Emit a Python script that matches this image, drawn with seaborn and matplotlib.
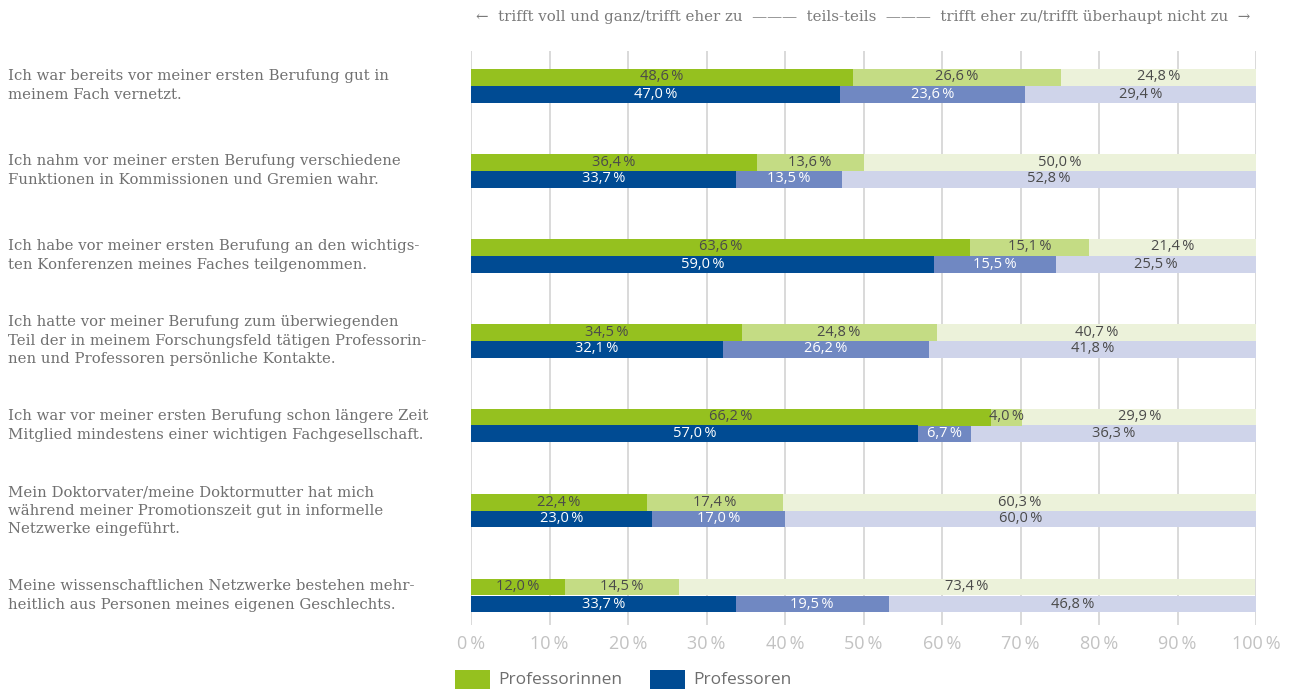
import matplotlib
matplotlib.use("Agg")
import matplotlib.pyplot as plt
import seaborn as sns
import pandas as pd
import numpy as np
from matplotlib.patches import Rectangle
import matplotlib.transforms as mtransforms

questions = [
    "Ich war bereits vor meiner ersten Berufung gut in\nmeinem Fach vernetzt.",
    "Ich nahm vor meiner ersten Berufung verschiedene\nFunktionen in Kommissionen und Gremien wahr.",
    "Ich habe vor meiner ersten Berufung an den wichtigs-\nten Konferenzen meines Faches teilgenommen.",
    "Ich hatte vor meiner Berufung zum überwiegenden\nTeil der in meinem Forschungsfeld tätigen Professorin-\nnen und Professoren persönliche Kontakte.",
    "Ich war vor meiner ersten Berufung schon längere Zeit\nMitglied mindestens einer wichtigen Fachgesellschaft.",
    "Mein Doktorvater/meine Doktormutter hat mich\nwährend meiner Promotionszeit gut in informelle\nNetzwerke eingeführt.",
    "Meine wissenschaftlichen Netzwerke bestehen mehr-\nheitlich aus Personen meines eigenen Geschlechts.",
]
groups = ["Professorinnen", "Professoren"]

f_agree = [48.6, 36.4, 63.6, 34.5, 66.2, 22.4, 12.0]
f_partly = [26.6, 13.6, 15.1, 24.8, 4.0, 17.4, 14.5]
f_disagree = [24.8, 50.0, 21.4, 40.7, 29.9, 60.3, 73.4]
m_agree = [47.0, 33.7, 59.0, 32.1, 57.0, 23.0, 33.7]
m_partly = [23.6, 13.5, 15.5, 26.2, 6.7, 17.0, 19.5]
m_disagree = [29.4, 52.8, 25.5, 41.8, 36.3, 60.0, 46.8]

xticks = [0, 10, 20, 30, 40, 50, 60, 70, 80, 90, 100]

green = ["#95c11f", "#c4dc84", "#ecf2da"]
blue = ["#004b93", "#7088c2", "#cfd4ea"]
label_colors_f = ["#4a4a4a", "#4a4a4a", "#4a4a4a"]
label_colors_m = ["#ffffff", "#ffffff", "#4a4a4a"]

sns.set_theme(style="white")
plt.rcParams["font.family"] = ["DejaVu Sans"]

W, H = 1297, 691
fig = plt.figure(figsize=(W / 100, H / 100), dpi=100)
ax_left, ax_right = 471 / W, 1256 / W
ax_top, ax_bot = 51, 625
ax = fig.add_axes([ax_left, 1 - ax_bot / H, ax_right - ax_left, (ax_bot - ax_top) / H])

unit = 85.0
y_top = -(85.5 - ax_top) / unit
y_bot = y_top + (ax_bot - ax_top) / unit

rows = []
for i, q in enumerate(questions):
    rows.append(dict(q=i, g=groups[0], a=f_agree[i], p=f_partly[i], d=f_disagree[i]))
    rows.append(dict(q=i, g=groups[1], a=m_agree[i], p=m_partly[i], d=m_disagree[i]))
df = pd.DataFrame(rows)
df["c1"] = df["a"]
df["c2"] = df["a"] + df["p"]
df["c3"] = df["a"] + df["p"] + df["d"]
df["qs"] = df["q"].astype(str)
order = [str(i) for i in range(len(questions))]

for layer, col in [(2, "c3"), (1, "c2"), (0, "c1")]:
    sns.barplot(data=df, y="qs", x=col, hue="g", order=order, hue_order=groups,
                palette=[green[layer], blue[layer]], orient="h", width=0.4,
                dodge=True, errorbar=None, ax=ax, linewidth=0, legend=False, saturation=1)

ax.set_xlim(0, 100)
ax.set_ylim(y_bot, y_top)
ax.set_xlabel("")
ax.set_ylabel("")
ax.set_yticks([])
ax.set_xticks(xticks)
ax.set_xticklabels([f"{t}\u2009%" for t in xticks], color="#c2c2c2", fontsize=13,
                   family=["Open Sans", "DejaVu Sans"])
ax.tick_params(axis="x", length=0, pad=7)
for s in ax.spines.values():
    s.set_visible(False)
for t in xticks:
    ax.axvline(t, color="#d0d0d0", lw=1.1, zorder=0)
ax.set_axisbelow(True)

def fmt(v):
    return f"{v:.1f}".replace(".", ",") + "\u2009%"

for i in range(len(questions)):
    for gi, (vals, cols) in enumerate([((f_agree[i], f_partly[i], f_disagree[i]), label_colors_f),
                                        ((m_agree[i], m_partly[i], m_disagree[i]), label_colors_m)]):
        yc = i - 0.1 + 0.2 * gi
        start = 0
        for k, v in enumerate(vals):
            ax.text(start + v / 2, yc, fmt(v), ha="center", va="center", fontsize=10.5,
                    color=cols[k], family=["Open Sans", "DejaVu Sans"], zorder=5)
            start += v

trans = mtransforms.blended_transform_factory(fig.transFigure, ax.transData)
for i, q in enumerate(questions):
    ax.text(8 / W, i, q, transform=trans, ha="left", va="center", fontsize=10.7,
            color="#707070", family=["DejaVu Serif"], linespacing=1.38)

fig.text(863 / W, 1 - 17 / H,
         "\u2190  trifft voll und ganz/trifft eher zu  \u2014\u2014\u2014  teils-teils  \u2014\u2014\u2014  trifft eher zu/trifft überhaupt nicht zu  \u2192",
         ha="center", va="center", fontsize=10.8, color="#7a7a7a", family=["DejaVu Serif"])

# legend
for x0, label, c in [(455, "Professorinnen", green[0]), (650, "Professoren", blue[0])]:
    fig.patches.append(Rectangle((x0 / W, 1 - 689 / H), 35 / W, 19 / H,
                                 transform=fig.transFigure, facecolor=c, edgecolor="none"))
    fig.text((x0 + 43) / W, 1 - 680 / H, label, ha="left", va="center", fontsize=12.5,
             color="#6e6e6e", family=["Open Sans", "DejaVu Sans"])

fig.savefig("out.png", dpi=100)
